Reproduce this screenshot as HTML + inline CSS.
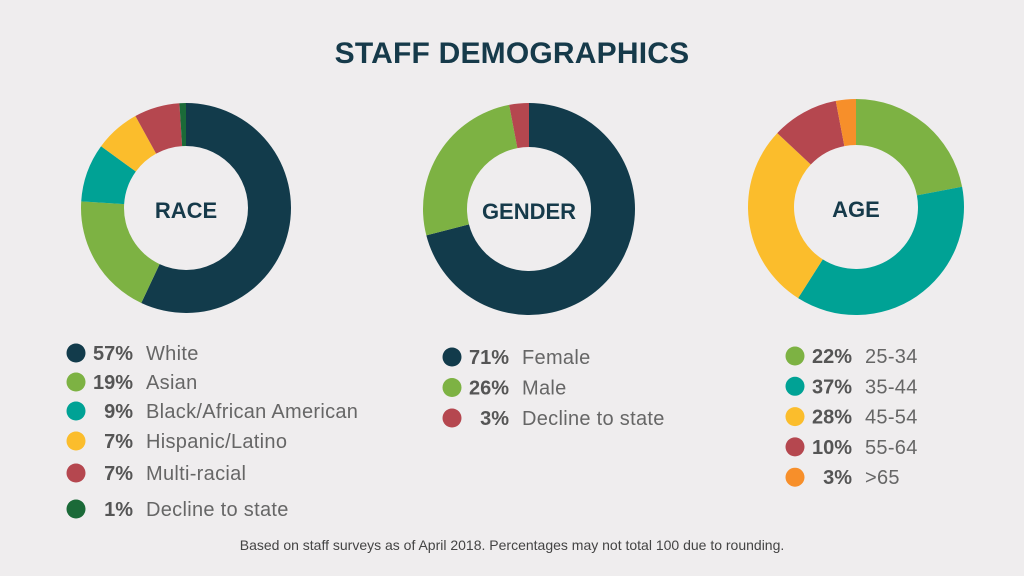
<!DOCTYPE html>
<html><head><meta charset="utf-8"><style>
body{margin:0;background:#efedee;width:1024px;height:576px;overflow:hidden;font-family:"Liberation Sans",sans-serif;position:relative}
#title{position:absolute;left:0;width:1024px;top:37px;text-align:center;font-size:30px;font-weight:bold;color:#163a4a;letter-spacing:0.2px}
#foot{position:absolute;left:0;width:1024px;top:537px;text-align:center;font-size:14px;color:#444}
svg{position:absolute;left:0;top:0}
</style></head><body>
<div id="title">STAFF DEMOGRAPHICS</div>
<svg id="s" width="1024" height="576"></svg>
<div id="foot">Based on staff surveys as of April 2018. Percentages may not total 100 due to rounding.</div>
<script>
const raceLabels=["White","Asian","Black/African American","Hispanic/Latino","Multi-racial","Decline to state"];
const raceValues=[57,19,9,7,7,1];
const raceColors=["#123b4b","#7db243","#00a295","#fbbd2c","#b5474f","#1b6a38"];
const genderLabels=["Female","Male","Decline to state"];
const genderValues=[71,26,3];
const genderColors=["#123b4b","#7db243","#b5474f"];
const ageLabels=["25-34","35-44","45-54","55-64",">65"];
const ageValues=[22,37,28,10,3];
const ageColors=["#7db243","#00a295","#fbbd2c","#b5474f","#f78f2a"];
const NS="http://www.w3.org/2000/svg";
const svg=document.getElementById('s');
function mk(t,a){const e=document.createElementNS(NS,t);for(const k in a)e.setAttribute(k,a[k]);svg.appendChild(e);return e;}
function donut(name,title,cx,cy,R,r,vals,cols,labels,lx,ly,dy,dys){
  const tot=vals.reduce((a,b)=>a+b,0);let a0=0;
  vals.forEach((v,i)=>{
    const a1=a0+v/tot*2*Math.PI;
    const p=(ang,rad)=>[cx+rad*Math.sin(ang),cy-rad*Math.cos(ang)];
    const [x1,y1]=p(a0,R),[x2,y2]=p(a1,R),[x3,y3]=p(a1,r),[x4,y4]=p(a0,r);
    const lg=(a1-a0)>Math.PI?1:0;
    const e=mk('path',{d:`M${x1},${y1}A${R},${R} 0 ${lg} 1 ${x2},${y2}L${x3},${y3}A${r},${r} 0 ${lg} 0 ${x4},${y4}Z`,fill:cols[i]});
    
    
    a0=a1;
  });
  const t=mk('text',{x:cx,y:cy+10,'text-anchor':'middle','font-size':22,'font-weight':'bold',fill:'#163a4a'});
  t.textContent=title;
  
  
  labels.forEach((l,i)=>{
    const y=ly+(dys?dys[i]:i*dy);
    const c=mk('circle',{cx:lx,cy:y,r:9.5,fill:cols[i]});
    
    
    const p=mk('text',{x:lx+57,y:y+7,'text-anchor':'end','font-size':20,'font-weight':'bold',fill:'#555'});
    p.textContent=vals[i]+'%';
    
    
    const q=mk('text',{x:lx+70,y:y+7,'font-size':20,fill:'#666','letter-spacing':'0.3'});
    q.textContent=l;
    
    
  });
}
donut('race','RACE',186,208,105,62,raceValues,raceColors,raceLabels,76,353,0,[0,29,58,88,120,156]);
donut('gender','GENDER',529,209,106,62,genderValues,genderColors,genderLabels,452,357,30.5);
donut('age','AGE',856,207,108,62,ageValues,ageColors,ageLabels,795,356,30.3);
</script>
</body></html>
